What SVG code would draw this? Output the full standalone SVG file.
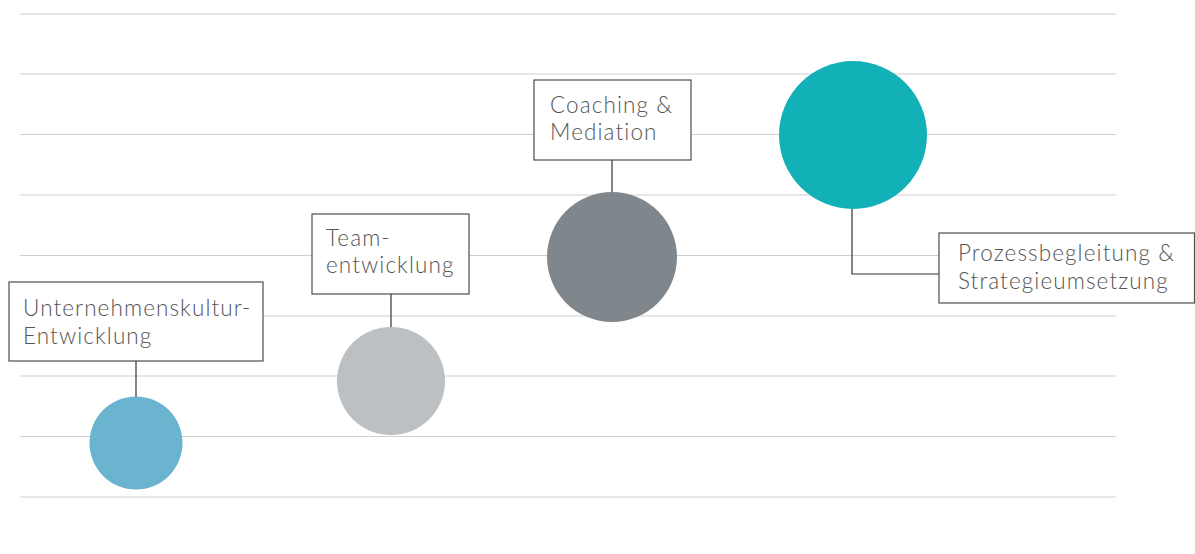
<svg xmlns="http://www.w3.org/2000/svg" width="1195" height="554" viewBox="0 0 1195 554">
  <style>
    .grid line { stroke: #cfcfcf; stroke-width: 1.2; }
    .box { fill: #ffffff; stroke: #4d4d4d; stroke-width: 1.2; }
    .label { font-family: Lato, "Open Sans", sans-serif; font-weight: 300; font-size: 22.5px; fill: #555555; letter-spacing: 1.1px; }
    .conn { fill: none; stroke: #333333; stroke-width: 1.2; }
  </style>
  <rect width="1195" height="554" fill="#ffffff"/>
  <g class="grid">
    <line x1="20" y1="14" x2="1116" y2="14"/>
    <line x1="20" y1="74" x2="1116" y2="74"/>
    <line x1="20" y1="134.5" x2="1116" y2="134.5"/>
    <line x1="20" y1="195" x2="1116" y2="195"/>
    <line x1="20" y1="255.5" x2="1116" y2="255.5"/>
    <line x1="20" y1="316" x2="1116" y2="316"/>
    <line x1="20" y1="376" x2="1116" y2="376"/>
    <line x1="20" y1="436.5" x2="1116" y2="436.5"/>
    <line x1="20" y1="497" x2="1116" y2="497"/>
  </g>
  <g id="connectors">
    <line class="conn" x1="136" y1="361" x2="136" y2="398"/>
    <line class="conn" x1="391" y1="294" x2="391" y2="328"/>
    <line class="conn" x1="612" y1="160" x2="612" y2="193"/>
    <path class="conn" d="M852 208 V274 H939"/>
  </g>
  <g id="node-kultur">
    <circle cx="136" cy="443" r="46.5" fill="#6ab4cf"/>
    <rect class="box" x="9" y="282" width="254" height="79"/>
    <text class="label" x="23" y="316">Unternehmenskultur-</text>
    <text class="label" x="23" y="344">Entwicklung</text>
  </g>
  <g id="node-team">
    <circle cx="391" cy="381" r="54" fill="#bcc0c3"/>
    <rect class="box" x="312" y="214" width="157" height="80"/>
    <text class="label" x="326" y="246">Team-</text>
    <text class="label" x="326" y="273">entwicklung</text>
  </g>
  <g id="node-coaching">
    <circle cx="612" cy="257" r="65" fill="#7f878c"/>
    <rect class="box" x="534" y="80" width="157" height="80"/>
    <text class="label" x="550" y="113">Coaching &amp;</text>
    <text class="label" x="550" y="140">Mediation</text>
  </g>
  <g id="node-prozess">
    <circle cx="853" cy="135" r="74" fill="#12b1b7"/>
    <rect class="box" x="939" y="233" width="255.5" height="70"/>
    <text class="label" x="958" y="261">Prozessbegleitung &amp;</text>
    <text class="label" x="958" y="289">Strategieumsetzung</text>
  </g>
</svg>
